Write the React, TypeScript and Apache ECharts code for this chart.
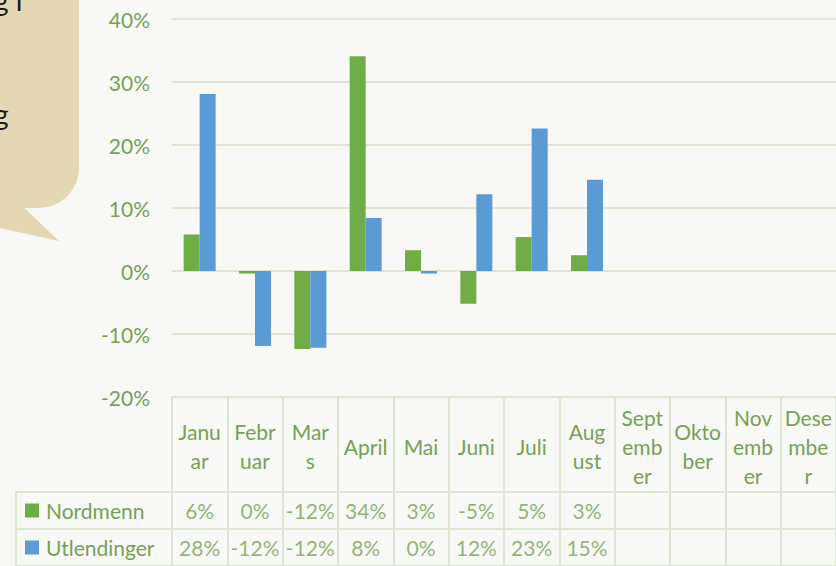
import React, { useEffect, useRef } from "react";
import * as echarts from "echarts";

const months = ["Januar", "Februar", "Mars", "April", "Mai", "Juni", "Juli", "August", "September", "Oktober", "November", "Desember"];
const monthLabels = ["Janu\nar", "Febr\nuar", "Mar\ns", "April", "Mai", "Juni", "Juli", "Aug\nust", "Sept\nemb\ner", "Okto\nber", "Nov\nemb\ner", "Dese\nmbe\nr"];
const seriesNames = ["Nordmenn", "Utlendinger"];
const nordmenn = [5.8, -0.4, -12.4, 34.1, 3.3, -5.2, 5.4, 2.5];
const utlendinger = [28.1, -11.9, -12.2, 8.4, -0.4, 12.2, 22.6, 14.5];
const yMin = -20;
const yMax = 40;
const yInterval = 10;
const bubbleLines = ["g i", "g"];

const GREEN = "#70AD47";
const BLUE = "#5B9BD5";
const TEXT = "#77A057";
const GRID = "#DEE6D3";
const BG = "#F8F8F6";
const FONT = "Lato";
const FS = 21;

export default function App() {
  const ref = useRef<HTMLDivElement>(null);
  useEffect(() => {
    document.body.style.margin = "0";
    const chart = echarts.init(ref.current!, null, { renderer: "svg" });
    const colors = [GREEN, BLUE];
    const cellData: any[] = [];
    [nordmenn, utlendinger].forEach((arr, r) => {
      arr.forEach((v, i) => cellData.push([months[i], seriesNames[r], v]));
    });
    chart.setOption({
      animation: false,
      backgroundColor: BG,
      textStyle: { fontFamily: FONT },
      grid: [
        { left: 172, top: 19, width: 666, height: 378 },
        { left: 172, top: 492, width: 666, height: 76 },
      ],
      xAxis: [
        {
          type: "category",
          gridIndex: 0,
          data: months,
          axisLine: { show: true, onZero: false, lineStyle: { color: GRID, width: 2 } },
          axisTick: { show: true, interval: 0, length: 95, lineStyle: { color: GRID, width: 2 } },
          axisLabel: {
            interval: 0,
            margin: 49,
            verticalAlign: "middle",
            color: TEXT,
            fontSize: FS,
            lineHeight: 29,
            fontFamily: FONT,
            formatter: (_v: string, i: number) => monthLabels[i],
          },
          splitLine: { show: false },
        },
        {
          type: "category",
          gridIndex: 1,
          data: months,
          axisLine: { show: false },
          axisTick: { show: false },
          axisLabel: { show: false },
          splitLine: { show: true, interval: 0, lineStyle: { color: GRID, width: 2 } },
        },
      ],
      yAxis: [
        {
          type: "value",
          gridIndex: 0,
          min: yMin,
          max: yMax,
          interval: yInterval,
          axisLine: { show: false },
          axisTick: { show: false },
          axisLabel: { formatter: "{value}%", color: TEXT, fontSize: FS, margin: 22, fontFamily: FONT },
          splitLine: { show: true, lineStyle: { color: GRID, width: 2 } },
        },
        {
          type: "category",
          gridIndex: 1,
          inverse: true,
          data: seriesNames,
          axisLine: { show: false },
          axisTick: { show: true, interval: 0, length: 156, lineStyle: { color: GRID, width: 2 } },
          splitLine: { show: true, interval: 0, lineStyle: { color: GRID, width: 2 } },
          axisLabel: {
            align: "left",
            margin: 147,
            formatter: (v: string, i: number) => `{k${i}|}{t|${v}}`,
            rich: {
              k0: { width: 14, height: 14, backgroundColor: GREEN },
              k1: { width: 14, height: 14, backgroundColor: BLUE },
              t: { padding: [0, 0, 0, 7], color: TEXT, fontSize: FS, fontFamily: FONT },
            },
          },
        },
      ],
      series: [
        {
          name: seriesNames[0],
          type: "bar",
          xAxisIndex: 0,
          yAxisIndex: 0,
          data: nordmenn,
          barWidth: 16,
          barGap: "0%",
          itemStyle: { color: colors[0] },
        },
        {
          name: seriesNames[1],
          type: "bar",
          xAxisIndex: 0,
          yAxisIndex: 0,
          data: utlendinger,
          barWidth: 16,
          barGap: "0%",
          itemStyle: { color: colors[1] },
        },
        {
          type: "scatter",
          xAxisIndex: 1,
          yAxisIndex: 1,
          data: cellData,
          symbolSize: 1,
          itemStyle: { color: "rgba(0,0,0,0)" },
          label: {
            show: true,
            position: "inside",
            color: TEXT,
            fontSize: FS,
            fontFamily: FONT,
            formatter: (p: any) => `${Math.round(p.value[2])}%`,
          },
        },
      ],
      graphic: [
        {
          type: "rect",
          shape: { x: -40, y: -40, width: 119, height: 248, r: [0, 0, 40, 0] },
          style: { fill: "#E4D8B4" },
        },
        {
          type: "polygon",
          shape: { points: [[-5, 200], [16, 200], [59, 241], [-5, 227]] },
          style: { fill: "#E4D8B4" },
        },
        {
          type: "text",
          x: -6,
          y: -14,
          style: { text: bubbleLines[0], fontSize: 28, fontFamily: FONT, fill: "#1A1A1A" },
        },
        {
          type: "text",
          x: -6,
          y: 100,
          style: { text: bubbleLines[1], fontSize: 28, fontFamily: FONT, fill: "#1A1A1A" },
        },
        {
          type: "line",
          shape: { x1: 16, y1: 491, x2: 16, y2: 570 },
          style: { stroke: GRID, lineWidth: 2 },
        },
      ],
    });
    return () => chart.dispose();
  }, []);
  return <div ref={ref} style={{ position: "fixed", left: 0, top: 0, width: 836, height: 566 }} />;
}
